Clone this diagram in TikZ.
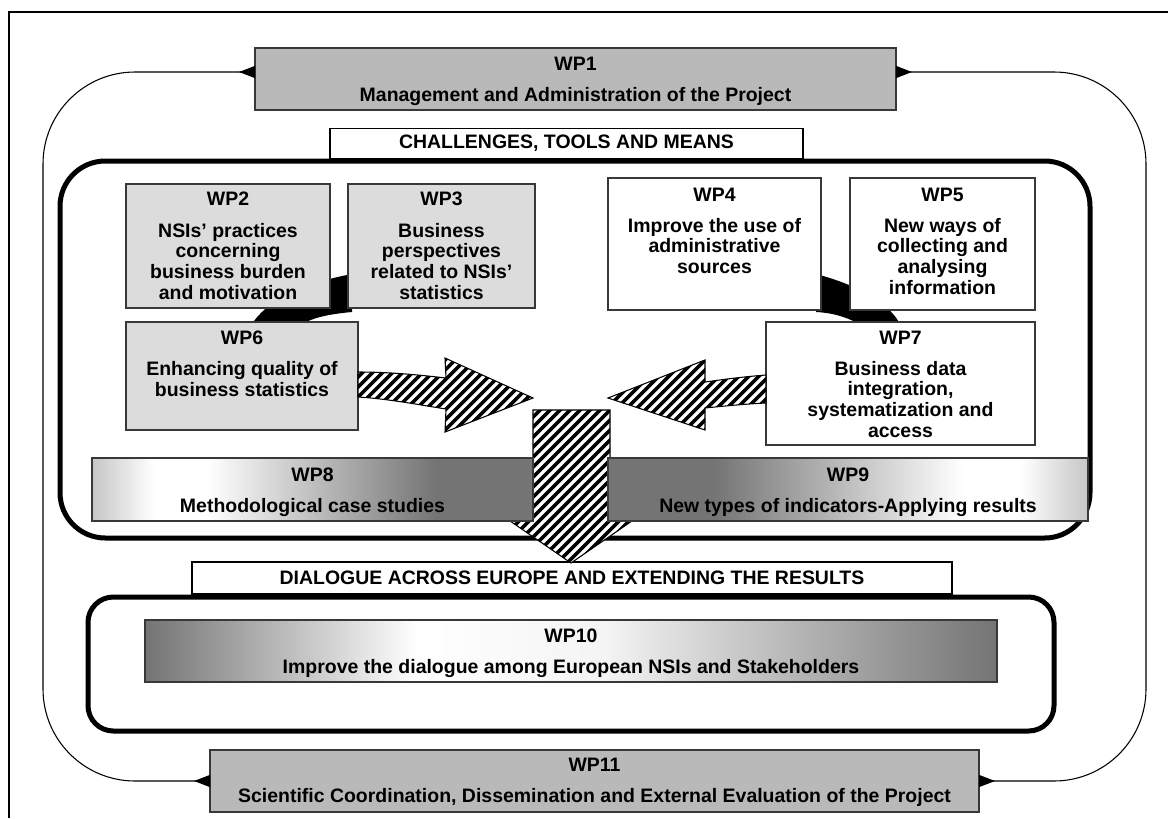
\documentclass[tikz,border=0pt]{standalone}
\usepackage{fontspec}
\setmainfont{Liberation Sans}
\usetikzlibrary{arrows.meta}
\definecolor{boxdark}{HTML}{B9B9B9}
\definecolor{boxlight}{HTML}{DCDCDC}
\definecolor{shadedark}{HTML}{747474}
\definecolor{shadelight}{HTML}{C6C6C6}
\definecolor{shadewhite}{HTML}{F4F4F4}
\definecolor{edgecol}{HTML}{383838}
\pgfdeclarehorizontalshading{wpeightshade}{100bp}{color(0bp)=(shadelight); color(25bp)=(shadelight); color(32bp)=(white); color(38bp)=(white); color(64bp)=(shadedark); color(75bp)=(shadedark); color(100bp)=(shadedark)}
\pgfdeclarehorizontalshading{wpnineshade}{100bp}{color(0bp)=(shadedark); color(25bp)=(shadedark); color(36bp)=(shadedark); color(62bp)=(white); color(68bp)=(white); color(75bp)=(shadelight); color(100bp)=(shadelight)}
\pgfdeclarehorizontalshading{wptenshade}{100bp}{color(0bp)=(shadedark); color(25bp)=(shadedark); color(41bp)=(white); color(52bp)=(shadewhite); color(75bp)=(shadedark); color(100bp)=(shadedark)}
\newcommand\arrowLpath{(358,372) .. controls (390,372) and (420,375) .. (446,378) -- (445,358) -- (533,398) -- (445,432) -- (446,409) .. controls (420,405) and (390,399) .. (358,397) -- cycle}
\newcommand\arrowRpath{(766,375) .. controls (740,377) and (720,380) .. (705,382) -- (705,360) -- (608,398) -- (705,430) -- (705,408) .. controls (725,406) and (745,404) .. (766,403) -- cycle}
\newcommand\arrowDpath{(533,410) -- (610,410) -- (610,512) -- (645,512) -- (571,563) -- (497,512) -- (533,512) -- cycle}
\begin{document}
\begin{tikzpicture}[x=0.75pt,y=-0.75pt,
  dims/.style 2 args={minimum width=#1*0.75pt, minimum height=#2*0.75pt},
  wpbox/.style={draw=edgecol, line width=1pt, inner sep=0pt, outer sep=0pt},
  wptext/.style={anchor=north, align=center, inner sep=0pt,
    font=\fontsize{14.6}{15.5}\selectfont\bfseries},
  caption/.style={draw=black, line width=0.8pt, fill=white, inner sep=0pt,
    font=\fontsize{14.6}{15}\selectfont\bfseries},
  loopline/.style={line width=0.8pt, rounded corners=69pt,
    {Triangle[reversed,length=12pt,width=9pt]}-{Triangle[reversed,length=12pt,width=9pt]}},
  frameline/.style={line width=3.75pt},
  stripe/.style={line width=2.65pt},
  outline/.style={line width=0.8pt, draw=black}
]
\useasboundingbox (0,0) rectangle (1168,818);
\fill[white] (0,0) rectangle (1168,818);
% outer frame
\draw[line width=1.5pt] (9,818) -- (9,12) -- (1168,12);

% WP1 and WP11
\node[wpbox, fill=boxdark, dims={641}{62}] (wp1) at (575.5,79) {};
\node[wptext] (wp1t) at (575.5,57) {WP1\\[7.5pt]Management and Administration of the Project};
\node[wpbox, fill=boxdark, dims={769}{62}] (wp11) at (594.5,781) {};
\node[wptext] (wp11t) at (594.5,758) {WP11\\[7.5pt]Scientific Coordination, Dissemination and External Evaluation of the Project};

% loop connectors
\coordinate (ltop) at (43,72);
\coordinate (lbot) at (43,781);
\coordinate (rtop) at (1146,72);
\coordinate (rbot) at (1146,781);
\draw[loopline] ([yshift=5.25pt]wp1.west) -- (ltop) -- (lbot) -- (wp11.west);
\draw[loopline] ([yshift=5.25pt]wp1.east) -- (rtop) -- (rbot) -- (wp11.east);

% captions
\node[caption, dims={473}{30}] (chal) at (566.5,143.5) {CHALLENGES, TOOLS AND MEANS};
\node[caption, dims={760}{32}] (dial) at (572,578) {DIALOGUE ACROSS EUROPE AND EXTENDING THE RESULTS};

% containers
\draw[frameline, rounded corners=34pt] (60,161) rectangle (1090,538);
\draw[frameline, rounded corners=19pt] (88,597) rectangle (1054,731);

% black bands behind the boxes
\fill[black] (248,330) .. controls (265,300) and (300,284) .. (352,274) -- (352,312) .. controls (330,314) and (305,318) .. (296,330) -- cycle;
\fill[black] (816,274) .. controls (850,283) and (890,300) .. (902,328) -- (866,328) .. controls (850,318) and (835,313) .. (816,312) -- cycle;

% WP2 .. WP7
\node[wpbox, fill=boxlight, dims={204}{124}] (wp2) at (228,246) {};
\node[wptext] (wp2t) at (228,192) {WP2\\[8pt]NSIs’ practices\\concerning\\business burden\\and motivation};
\node[wpbox, fill=boxlight, dims={187}{124}] (wp3) at (441.5,246) {};
\node[wptext] (wp3t) at (441.5,192) {WP3\\[8pt]Business\\perspectives\\related to NSIs’\\statistics};
\node[wpbox, fill=white, dims={213}{132}] (wp4) at (714.5,244) {};
\node[wptext] (wp4t) at (714.5,188) {WP4\\[7.5pt]Improve the use of\\administrative\\sources};
\node[wpbox, fill=white, dims={185}{132}] (wp5) at (942.5,244) {};
\node[wptext] (wp5t) at (942.5,188) {WP5\\[7.5pt]New ways of\\collecting and\\analysing\\information};
\node[wpbox, fill=boxlight, dims={232}{108}] (wp6) at (242,376) {};
\node[wptext] (wp6t) at (242,331) {WP6\\[7.5pt]Enhancing quality of\\business statistics};
\node[wpbox, fill=white, dims={269}{123}] (wp7) at (900.5,383.5) {};
\node[wptext] (wp7t) at (900.5,331) {WP7\\[7.5pt]Business data\\integration,\\systematization and\\access};

% striped arrows
\fill[white] \arrowLpath;
\begin{scope}
  \clip \arrowLpath;
  \foreach \a in {240,250,...,540} \draw[stripe] (\a,445) -- ++(100,-100);
\end{scope}
\draw[outline] \arrowLpath;

\fill[white] \arrowRpath;
\begin{scope}
  \clip \arrowRpath;
  \foreach \a in {490,500,...,780} \draw[stripe] (\a,445) -- ++(100,-100);
\end{scope}
\draw[outline] \arrowRpath;

\fill[white] \arrowDpath;
\begin{scope}
  \clip \arrowDpath;
  \foreach \a in {310,320,...,660} \draw[stripe] (\a,570) -- ++(170,-170);
\end{scope}
\draw[outline] \arrowDpath;

% WP8, WP9, WP10
\node[wpbox, shade, shading=wpeightshade, dims={441}{63}] (wp8) at (312.5,489.5) {};
\node[wptext] (wp8t) at (312.5,468) {WP8\\[7.5pt]Methodological case studies};
\node[wpbox, shade, shading=wpnineshade, dims={480}{63}] (wp9) at (848,489.5) {};
\node[wptext] (wp9t) at (848,468) {WP9\\[7.5pt]New types of indicators-Applying results};
\node[wpbox, shade, shading=wptenshade, dims={852}{62}] (wp10) at (571,651) {};
\node[wptext] (wp10t) at (571,629) {WP10\\[7.5pt]Improve the dialogue among European NSIs and Stakeholders};
\end{tikzpicture}
\end{document}
